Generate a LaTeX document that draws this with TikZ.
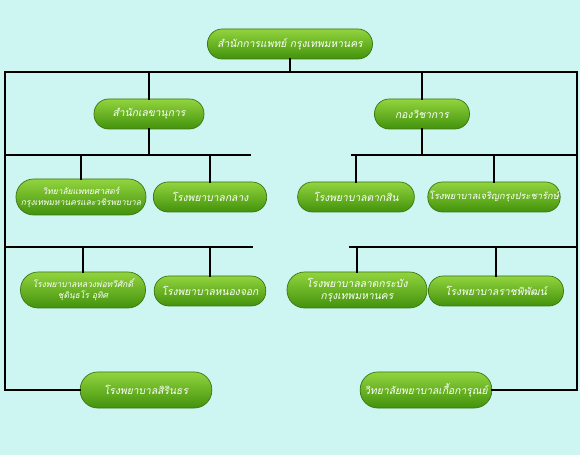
\documentclass[tikz,border=0pt]{standalone}
\usepackage{fontspec}
\newfontfamily\thaifont[Script=Thai,AutoFakeSlant=0.2]{Loma}
\definecolor{bgcyan}{RGB}{205,246,243}
\definecolor{pilltop}{RGB}{146,212,62}
\definecolor{pillbot}{RGB}{66,146,12}
\definecolor{pillrim}{RGB}{58,118,18}

\tikzset{
  pill/.style={rectangle, rounded corners=12.5pt, draw=pillrim, line width=0.6pt,
    top color=pilltop, bottom color=pillbot, text=white,
    font=\thaifont\itshape\fontsize{8.8}{10.5}\selectfont,
    align=center, inner sep=1pt, minimum height=0.9cm},
  pilltwo/.style={pill, rounded corners=15pt, minimum height=1.08cm},
  small/.style={font=\thaifont\itshape\fontsize{7.2}{9.5}\selectfont},
  midsize/.style={font=\thaifont\itshape\fontsize{8}{9.5}\selectfont},
  bus/.style={line width=2.2pt, black}
}

\begin{document}
\begin{tikzpicture}[x=0.03cm, y=-0.03cm, line cap=rect]
    % background
    \fill[bgcyan] (0,0) rectangle (580,455);
    \useasboundingbox (0,0) rectangle (580,455);

    % bus lines
    \coordinate (busA) at (5,72);
    \coordinate (busB) at (577,72);
    \coordinate (l2a) at (5,155);
    \coordinate (l2b) at (250,155);
    \coordinate (r2a) at (352,155);
    \coordinate (r2b) at (577,155);
    \coordinate (l3a) at (5,247);
    \coordinate (l3b) at (252,247);
    \coordinate (r3a) at (350,247);
    \coordinate (r3b) at (577,247);

    % boxes
    \node[pill, minimum width=4.95cm] (top) at (290,44) {สำนักการแพทย์ กรุงเทพมหานคร};
    \node[pill, minimum width=3.3cm] (sec) at (149,114) {สำนักเลขานุการ};
    \node[pill, minimum width=2.85cm] (acad) at (422,114) {กองวิชาการ};

    \node[pilltwo, small, minimum width=3.9cm] (medcol) at (81,197) {วิทยาลัยแพทยศาสตร์\\กรุงเทพมหานครและวชิรพยาบาล};
    \node[pill, minimum width=3.4cm] (klang) at (210,197) {โรงพยาบาลกลาง};
    \node[pill, minimum width=3.5cm] (taksin) at (356,197) {โรงพยาบาลตากสิน};
    \node[pill, midsize, minimum width=3.95cm] (charoen) at (494,197) {โรงพยาบาลเจริญกรุงประชารักษ์};

    \node[pilltwo, small, minimum width=3.75cm] (luangpho) at (83,290) {โรงพยาบาลหลวงพ่อทวีศักดิ์\\ชุตินฺธโร อุทิศ};
    \node[pill, minimum width=3.35cm] (nongchok) at (210,291) {โรงพยาบาลหนองจอก};
    \node[pilltwo, minimum width=4.2cm] (latkrabang) at (357,290) {โรงพยาบาลลาดกระบัง\\กรุงเทพมหานคร};
    \node[pill, minimum width=4.05cm] (ratchaphiphat) at (496,291) {โรงพยาบาลราชพิพัฒน์};

    \node[pilltwo, minimum width=3.95cm] (sirin) at (146,390) {โรงพยาบาลสิรินธร};
    \node[pilltwo, minimum width=3.95cm] (kuea) at (426,390) {วิทยาลัยพยาบาลเกื้อการุณย์};

    % top level
    \draw[bus] (busA) -- (busB);
    \draw[bus] (top.south) -- (top.south |- busA);
    \draw[bus] (sec.north) -- (sec.north |- busA);
    \draw[bus] (acad.north) -- (acad.north |- busA);
    \draw[bus] (busA) |- (sirin.west);
    \draw[bus] (busB) |- (kuea.east);

    % left branch
    \draw[bus] (l2a) -- (l2b);
    \draw[bus] (sec.south) -- (sec.south |- l2a);
    \draw[bus] (medcol.north) -- (medcol.north |- l2a);
    \draw[bus] (klang.north) -- (klang.north |- l2a);
    \draw[bus] (l3a) -- (l3b);
    \draw[bus] (luangpho.north) -- (luangpho.north |- l3a);
    \draw[bus] (nongchok.north) -- (nongchok.north |- l3a);

    % right branch
    \draw[bus] (r2a) -- (r2b);
    \draw[bus] (acad.south) -- (acad.south |- r2a);
    \draw[bus] (taksin.north) -- (taksin.north |- r2a);
    \draw[bus] (charoen.north) -- (charoen.north |- r2a);
    \draw[bus] (r3a) -- (r3b);
    \draw[bus] (latkrabang.north) -- (latkrabang.north |- r3a);
    \draw[bus] (ratchaphiphat.north) -- (ratchaphiphat.north |- r3a);
\end{tikzpicture}
\end{document}
